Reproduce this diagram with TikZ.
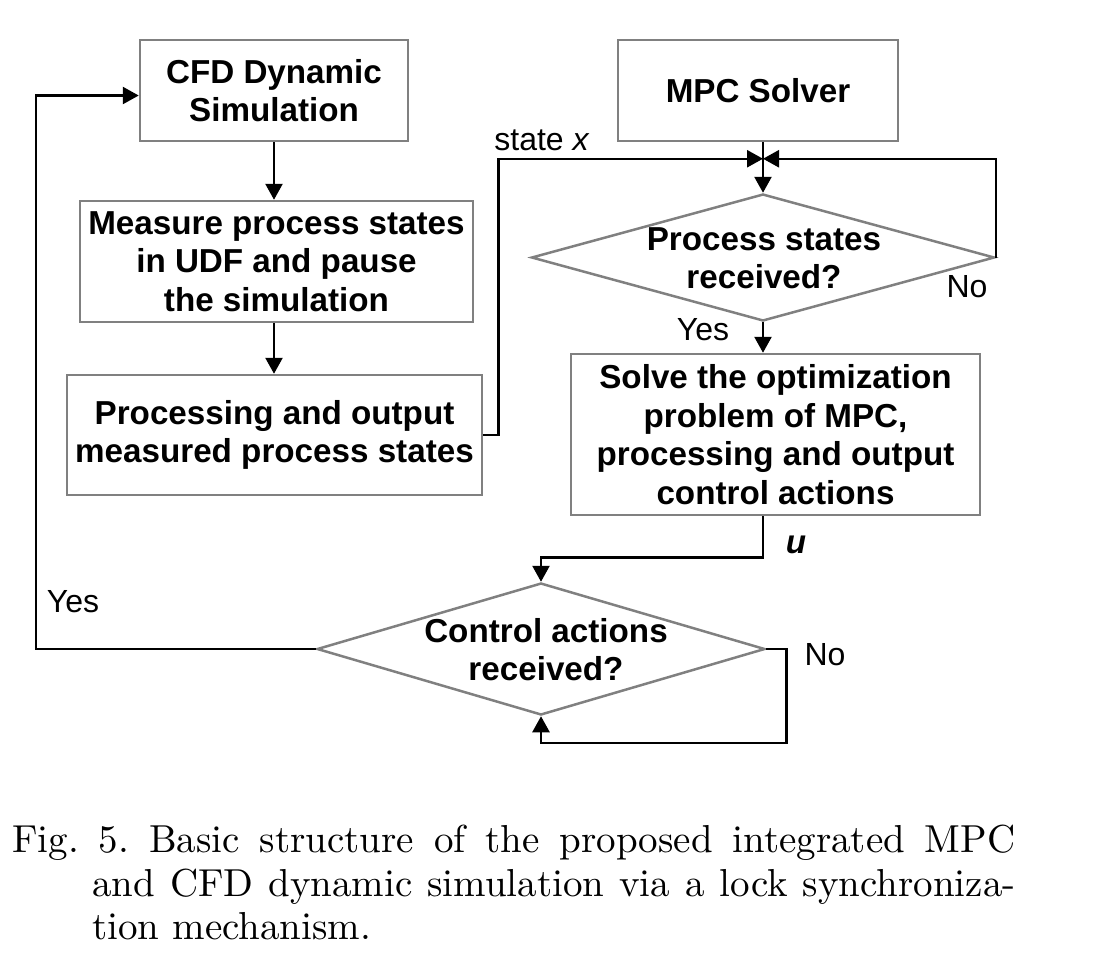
\documentclass[tikz,border=0pt]{standalone}
\usepackage{fontspec}
\newfontfamily\arial{Liberation Sans}
\usepackage{tikz}
\usetikzlibrary{shapes, shapes.geometric, arrows, positioning, arrows.meta}
\frenchspacing

\begin{document}
\begin{tikzpicture}[x=0.5pt,y=-0.5pt,
        caja/.style={draw=gray, line width=1.25pt, align=center, inner sep=0pt,
            font=\arial\bfseries\fontsize{16.6}{19.3}\selectfont},
        rombo/.style={draw=gray, line width=1.25pt, diamond, inner sep=0pt},
        texto/.style={align=center, inner sep=0pt,
            font=\arial\bfseries\fontsize{16.6}{19}\selectfont},
        etiqueta/.style={inner sep=0pt, font=\arial\fontsize{16}{19}\selectfont},
        flecha/.style={line width=1.25pt, -{Triangle[length=8pt, width=8.5pt]}},
        pie/.style={anchor=base west, inner sep=0pt, font=\fontsize{10}{12}\selectfont}]
        % Marco de la figura
        \useasboundingbox (0,0) rectangle (1118,971);
        % Cajas del lado CFD
        \node[caja, minimum width=134pt, minimum height=50.5pt] (cfd) at (274,90.5) {CFD Dynamic\\Simulation};
        \node[caja, minimum width=196.5pt, minimum height=60.5pt] (medir) at (276.5,261.5) {Measure process states\\in UDF and pause\\the simulation};
        \node[caja, minimum width=207.5pt, minimum height=60pt] (procesar) at (274.5,435) {Processing and output\\measured process states};
        % Cajas del lado MPC
        \node[caja, minimum width=140pt, minimum height=50.5pt] (mpc) at (758,90.5) {MPC Solver};
        \node[caja, minimum width=204.5pt, minimum height=80.5pt] (resolver) at (775.5,434.5) {Solve the optimization\\problem of MPC,\\processing and output\\control actions};
        % Rombos de decision
        \node[rombo, minimum width=231.5pt, minimum height=63.5pt] (estados) at (763,257.5) {};
        \node[texto] (estadostxt) at (764,258) {Process states\\received?};
        \node[rombo, minimum width=224pt, minimum height=66pt] (acciones) at (541,649) {};
        \node[texto] (accionestxt) at (546,650) {Control actions\\received?};
        % Punto de union sobre el primer rombo
        \path (estados.north) ++(0,-34) coordinate (cruce);
        % Conectores
        \draw[flecha] (cfd.south) -- (cfd.south |- medir.north);
        \draw[flecha] (cfd.south |- medir.south) -- (cfd.south |- procesar.north);
        \draw[flecha] (procesar.east) -- ++(15,0) |- (cruce);
        \draw[flecha] (estados.east) |- (cruce);
        \draw[flecha] (mpc.south -| estados.north) -- (estados.north);
        \draw[flecha] (estados.south) -- (estados.south |- resolver.north);
        \draw[flecha] (resolver.south -| cruce) -- ++(0,41) -| (acciones.north);
        \draw[flecha] (acciones.east) -- ++(20,0) -- ++(0,94) -| (acciones.south);
        \draw[flecha] (acciones.west) -- ++(-280,0) |- ([yshift=-2.5pt]cfd.west);
        % Etiquetas
        \node[etiqueta] (estado) at (542,140) {state \textit{x}};
        \node[etiqueta] (no1) at (967,287) {No};
        \node[etiqueta] (si1) at (703,330) {Yes};
        \node[etiqueta, font=\arial\bfseries\itshape\fontsize{16.6}{19}\selectfont] (u) at (796,545) {u};
        \node[etiqueta] (no2) at (825,655) {No};
        \node[etiqueta] (si2) at (73,602) {Yes};
        % Pie de figura
        \node[pie] (pie1) at (12,852) {\scalebox{1.95}{\makebox[257.2pt][s]{Fig. 5. Basic structure of the proposed integrated MPC}}};
        \node[pie] (pie2) at (92,896) {\scalebox{1.95}{\makebox[236.7pt][s]{and CFD dynamic simulation via a lock synchroniza-}}};
        \node[pie] (pie3) at (92,939) {\scalebox{1.95}{tion mechanism.}};
\end{tikzpicture}
\end{document}
